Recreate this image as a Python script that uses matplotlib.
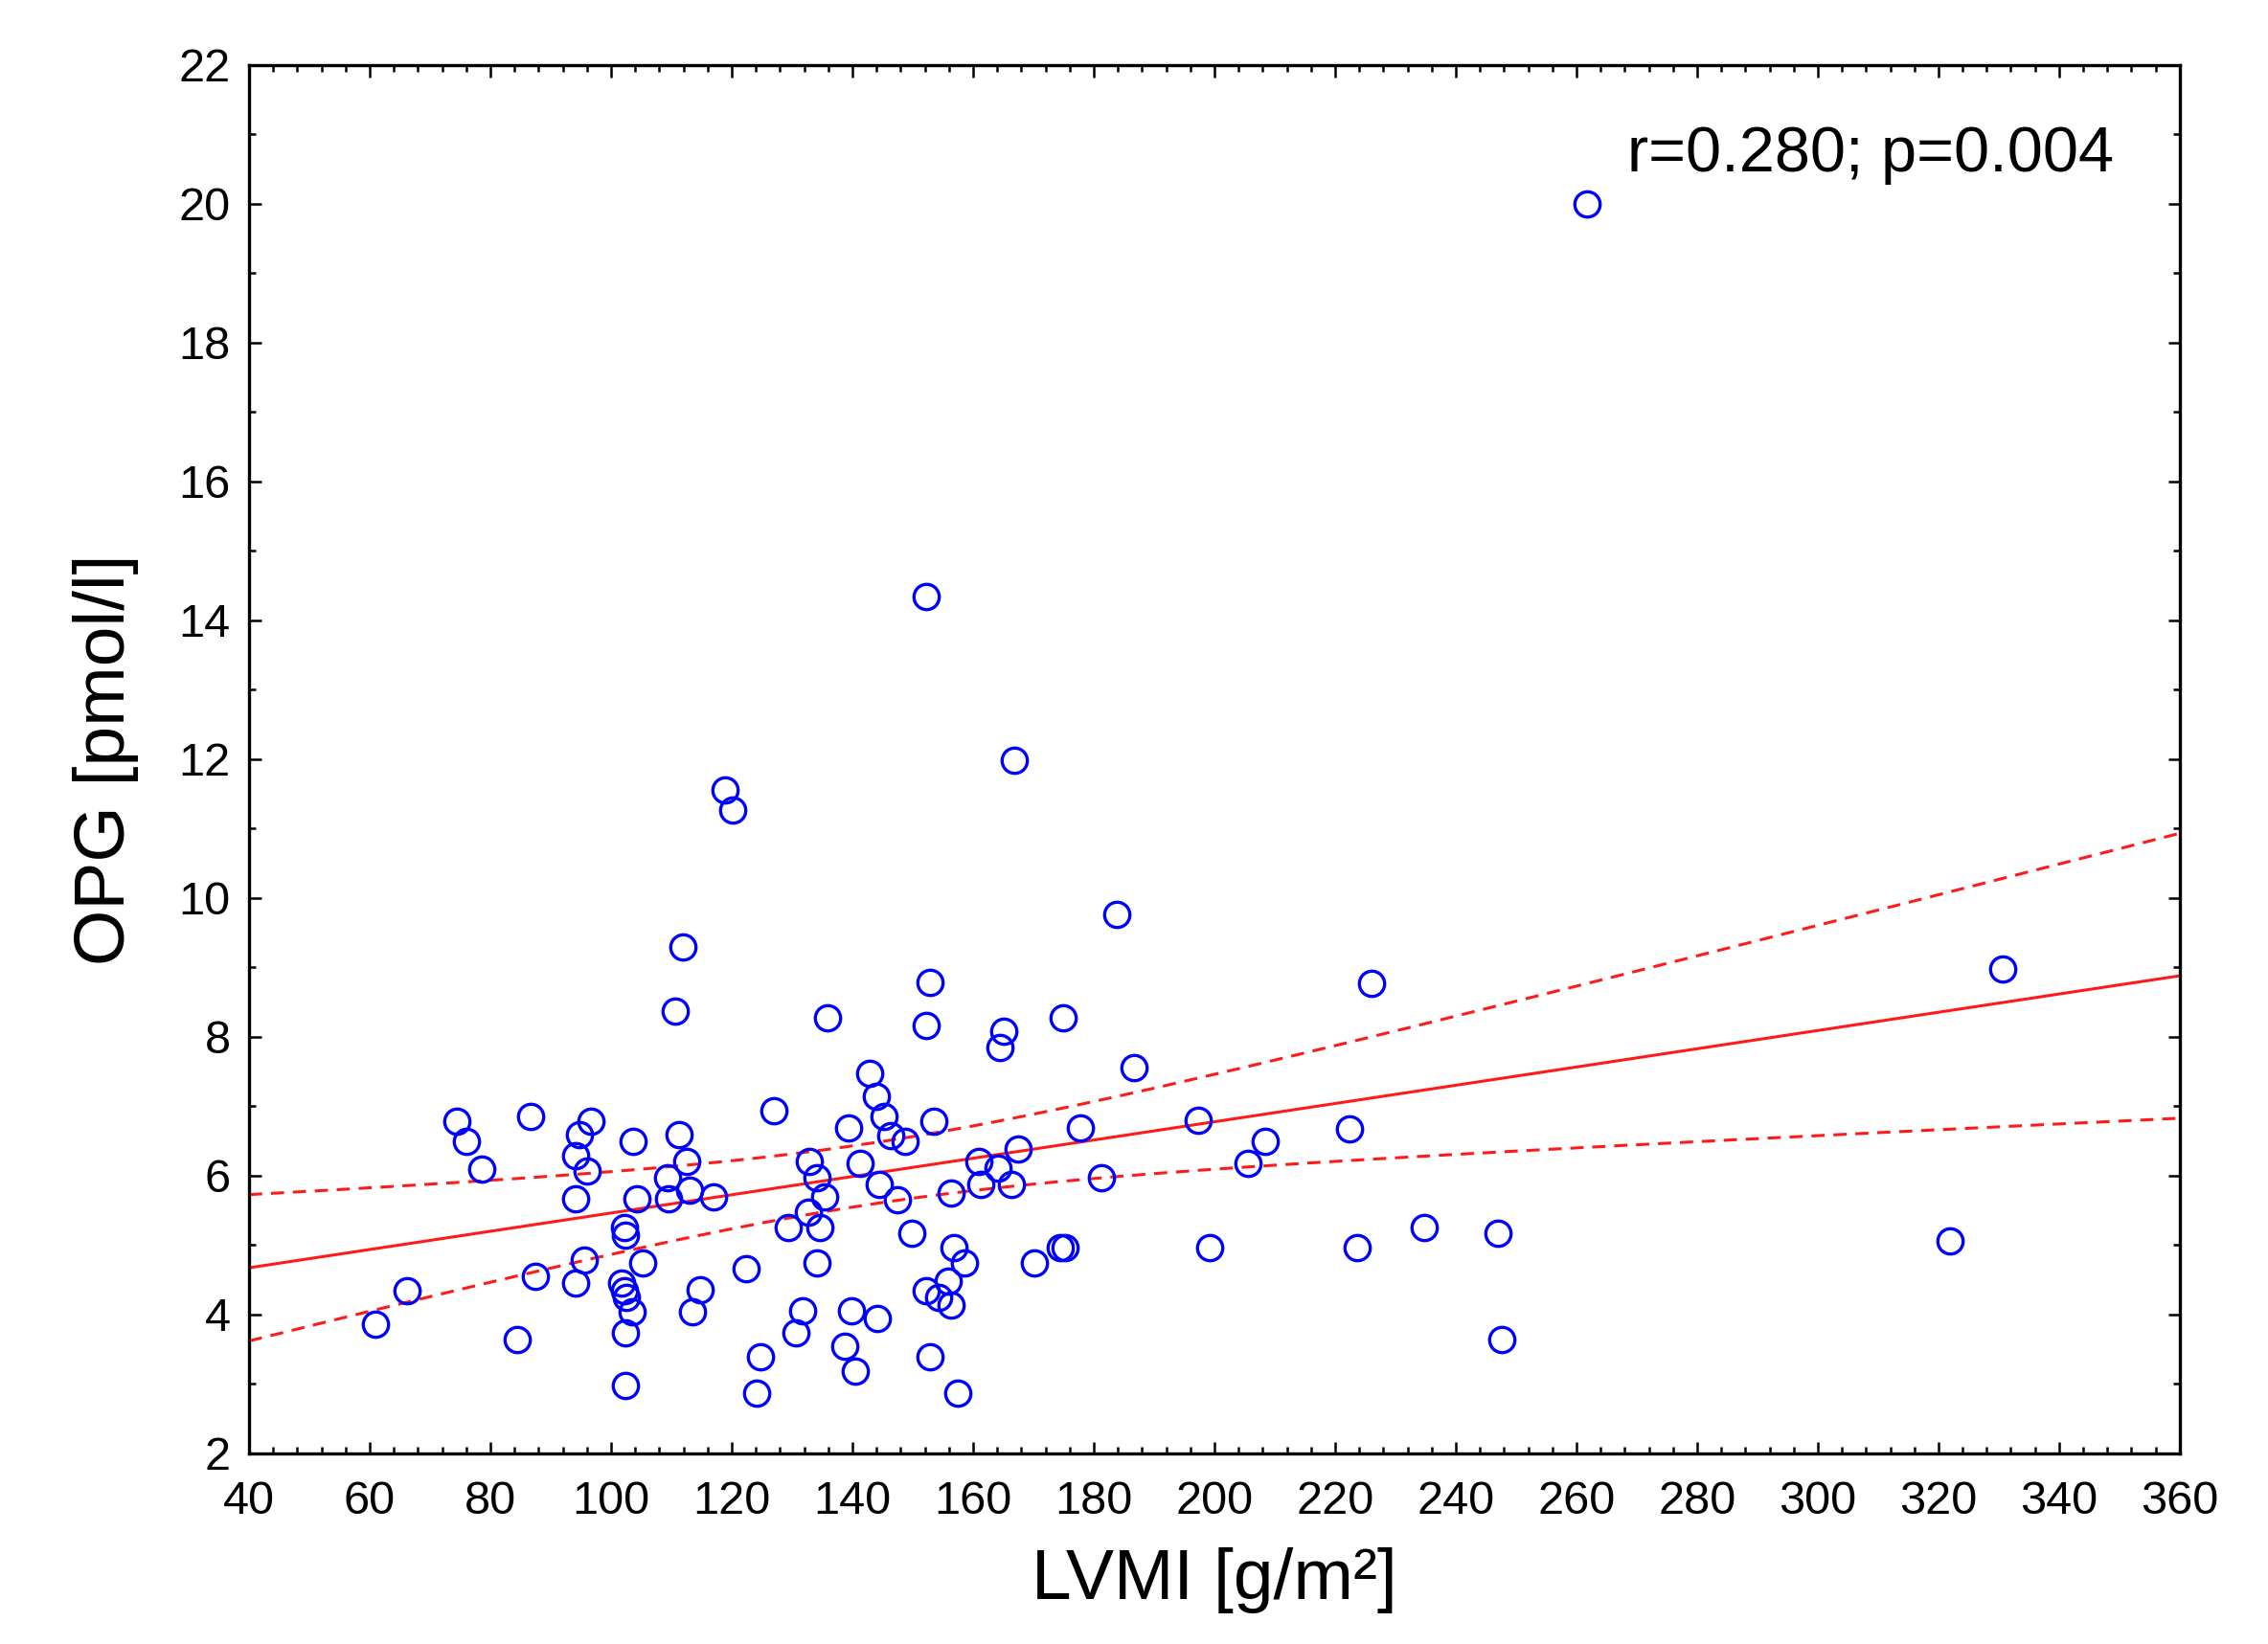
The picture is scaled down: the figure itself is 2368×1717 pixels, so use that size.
import numpy as np
import matplotlib
matplotlib.use("Agg")
import matplotlib.pyplot as plt
from matplotlib.ticker import MultipleLocator
from matplotlib import font_manager

# LVMI [g/m2] and OPG [pmol/l]
lvmi = [60.9, 66.2, 74.4, 76.1, 78.5, 84.4, 86.7, 87.4, 94.2, 94.8,
        94.2, 94.2, 95.6, 96.0, 96.6, 101.8, 102.2, 102.6, 102.2, 102.4,
        102.4, 102.4, 103.5, 103.6, 104.3, 105.3, 109.3, 109.6, 110.6, 111.3,
        111.9, 112.5, 113.0, 113.5, 114.7, 117.0, 118.9, 120.1, 122.4, 124.1,
        124.8, 127.0, 129.4, 130.7, 131.8, 132.7, 132.9, 134.2, 134.1, 134.6,
        135.4, 135.8, 138.8, 139.4, 139.9, 140.5, 141.2, 142.9, 144.0, 144.1,
        144.5, 145.2, 146.3, 147.5, 148.7, 149.8, 152.2, 152.2, 152.8, 152.2,
        152.8, 153.5, 154.3, 155.8, 156.3, 156.3, 156.9, 157.5, 158.6, 160.9,
        161.2, 164.1, 164.4, 165.1, 166.3, 166.8, 167.5, 170.2, 174.4, 175.2,
        175.0, 177.8, 181.3, 183.8, 186.7, 197.3, 199.2, 205.5, 208.4, 222.4,
        223.6, 226.0, 234.7, 247.0, 247.7, 261.7, 321.9, 330.7]
opg = [3.86, 4.35, 6.79, 6.49, 6.09, 3.64, 6.85, 4.55, 6.29, 6.59,
       5.67, 4.45, 4.78, 6.07, 6.79, 4.45, 4.35, 4.25, 5.26, 5.14,
       3.74, 2.98, 4.04, 6.49, 5.67, 4.75, 5.97, 5.67, 8.37, 6.59,
       9.29, 6.20, 5.79, 4.04, 4.36, 5.69, 11.56, 11.27, 4.66, 2.87,
       3.39, 6.94, 5.26, 3.74, 4.05, 5.47, 6.20, 5.97, 4.75, 5.26,
       5.69, 8.27, 3.54, 6.69, 4.05, 3.19, 6.18, 7.47, 7.14, 3.95,
       5.87, 6.86, 6.58, 5.66, 6.49, 5.17, 14.35, 8.17, 8.78, 4.34,
       3.39, 6.79, 4.25, 4.48, 4.14, 5.75, 4.97, 2.87, 4.75, 6.20,
       5.88, 6.11, 7.85, 8.08, 5.87, 11.98, 6.39, 4.75, 4.96, 4.96,
       8.27, 6.69, 5.97, 9.77, 7.56, 6.80, 4.96, 6.18, 6.49, 6.68,
       4.96, 8.77, 5.26, 5.17, 3.64, 20.0, 5.06, 8.98]
stats_text = "r=0.280; p=0.004"

x = np.array(lvmi)
y = np.array(opg)

# least squares line + 95% confidence band of the mean
slope, icpt = np.polyfit(x, y, 1)
n = len(x)
resid = y - (icpt + slope * x)
s = np.sqrt(np.sum(resid ** 2) / (n - 2))
sxx = np.sum((x - x.mean()) ** 2)
t_crit = 1.983
xf = np.linspace(40, 360, 200)
yf = icpt + slope * xf
half = t_crit * s * np.sqrt(1.0 / n + (xf - x.mean()) ** 2 / sxx)

regular = ["Liberation Sans", "DejaVu Sans"]
# tick labels in the reference are a condensed face; use one if installed
have = {f.name for f in font_manager.fontManager.ttflist}
narrow_name = next((nm for nm in ["Liberation Sans Narrow", "DejaVu Sans Condensed"]
                    if nm in have), None)
tick_family = [narrow_name] + regular if narrow_name else regular
tick_size = 38 if narrow_name else 35

fig = plt.figure(figsize=(23.68, 17.17), dpi=100)
ax = fig.add_axes([0.1098, 0.1159, 0.8513, 0.8445])

ax.plot(xf, yf, color="#ff1a1a", lw=2.2)
ax.plot(xf, yf + half, color="#ff1a1a", lw=2.2, dashes=(4.5, 3))
ax.plot(xf, yf - half, color="#ff1a1a", lw=2.2, dashes=(4.5, 3))
ax.plot(x, y, "o", ms=19, mfc="none", mec="#0000ff", mew=2.4, zorder=3)

ax.set_xlim(40, 360)
ax.set_ylim(2, 22)
ax.xaxis.set_major_locator(MultipleLocator(20))
ax.xaxis.set_minor_locator(MultipleLocator(4))
ax.yaxis.set_major_locator(MultipleLocator(2))
ax.yaxis.set_minor_locator(MultipleLocator(1))
ax.tick_params(which="both", direction="in", top=True, right=True, width=1.8)
ax.tick_params(which="major", length=9, labelsize=tick_size)
ax.tick_params(axis="x", which="major", pad=20)
ax.tick_params(axis="y", which="major", pad=14)
ax.tick_params(which="minor", length=5)
for lab in ax.get_xticklabels() + ax.get_yticklabels():
    lab.set_family(tick_family)
for sp in ax.spines.values():
    sp.set_linewidth(2.4)

ax.set_xlabel("LVMI [g/m²]", fontsize=54, family=regular, labelpad=18)
ax.set_ylabel("OPG [pmol/l]", fontsize=54, family=regular, labelpad=30)
ax.text(0.966, 0.935, stats_text, transform=ax.transAxes, ha="right", va="center",
        fontsize=48, family=regular)

fig.savefig("out.png", dpi=100)
